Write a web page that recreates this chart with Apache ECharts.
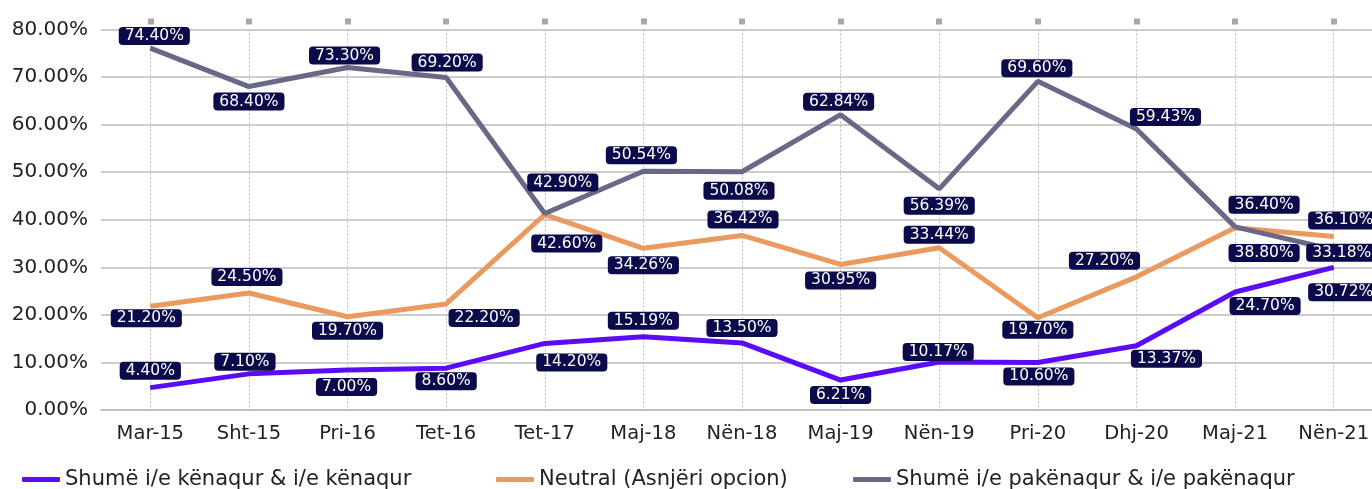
<!DOCTYPE html>
<html>
<head>
<meta charset="utf-8">
<script src="https://cdn.jsdelivr.net/npm/echarts@6/dist/echarts.min.js"></script>
<style>
  html, body { margin: 0; padding: 0; background: #ffffff; overflow: hidden; }
  /* slightly wider than the window: the last column is cut at the right edge */
  #chart { width: 1383px; height: 489px; }
</style>
</head>
<body>
<div id="chart"></div>
<script>
// categories (survey waves)
const categories = ["Mar-15", "Sht-15", "Pri-16", "Tet-16", "Tet-17", "Maj-18", "Nën-18", "Maj-19", "Nën-19", "Pri-20", "Dhj-20", "Maj-21", "Nën-21"];

// plotted values (%)
const satisfied = [4.7, 7.6, 8.4, 8.8, 14.0, 15.4, 14.1, 6.3, 10.1, 10.0, 13.5, 24.8, 30.0];
const neutral = [21.8, 24.6, 19.6, 22.3, 41.1, 34.0, 36.7, 30.6, 34.1, 19.4, 28.0, 38.3, 36.5];
const dissatisfied = [76.1, 68.0, 72.0, 69.9, 41.3, 50.2, 50.1, 62.1, 46.5, 69.1, 59.1, 38.5, 33.7];

// label texts as printed on the chart
const satisfiedLabels = ["4.40%", "7.10%", "7.00%", "8.60%", "14.20%", "15.19%", "13.50%", "6.21%", "10.17%", "10.60%", "13.37%", "24.70%", "30.72%"];
const neutralLabels = ["21.20%", "24.50%", "19.70%", "22.20%", "42.60%", "34.26%", "36.42%", "30.95%", "33.44%", "19.70%", "27.20%", "36.40%", "36.10%"];
const dissatisfiedLabels = ["74.40%", "68.40%", "73.30%", "69.20%", "42.90%", "50.54%", "50.08%", "62.84%", "56.39%", "69.60%", "59.43%", "38.80%", "33.18%"];

const seriesNames = ["Shumë i/e kënaqur & i/e kënaqur", "Neutral (Asnjëri opcion)", "Shumë i/e pakënaqur & i/e pakënaqur"];
const yTicks = [0, 10, 20, 30, 40, 50, 60, 70, 80];

// label placement (pixel offset from the point)
const satisfiedOffsets = [[0, -17], [-4, -12], [-1, 17], [0, 13], [27, 19], [0, -16], [0, -15], [0, 15], [-1, -10], [1, 14], [30, 13], [30, 14], [10, 25]];
const neutralOffsets = [[-4, 12], [-2, -16], [0, 14], [38, 14], [22, 29], [0, 17], [1, -16], [0, 16], [0, -13], [0, 12], [-32, -16], [29, -23], [10, -16]];
const dissatisfiedOffsets = [[4, -12], [0, 15], [-3, -12], [1, -15], [18, -31], [-2, -16], [-3, 19], [-2, -13], [0, 17], [-1, -13], [29, -12], [29, 26], [8, 3]];

const colors = ["#5a0cf7", "#ea9a5e", "#6a6787"];
const fontFamily = "DejaVu Sans";

const chart = echarts.init(document.getElementById("chart"));

function makeSeries(name, values, labels, offsets, color) {
  return {
    name: name,
    type: "line",
    data: values.map(function (v, i) {
      return { value: v, label: { offset: offsets[i] } };
    }),
    symbol: "circle",
    symbolSize: 1,
    itemStyle: { color: color },
    lineStyle: { width: 5, color: color },
    animation: false,
    label: {
      show: true,
      position: "inside",
      formatter: function (p) {
        return labels[p.dataIndex];
      },
      color: "#ffffff",
      fontFamily: fontFamily,
      fontSize: 15.5,
      lineHeight: 15,
      backgroundColor: "#0b0a4a",
      borderRadius: 4,
      padding: [2, 6, 1, 6],
    },
  };
}

function makeLegend(name, left) {
  return {
    data: [name],
    left: left,
    top: 469,
    padding: 0,
    icon: "roundRect",
    itemWidth: 38,
    itemHeight: 5,
    textStyle: { fontFamily: fontFamily, fontSize: 21, color: "#222222" },
  };
}

const option = {
  backgroundColor: "#ffffff",
  textStyle: { fontFamily: fontFamily },
  grid: { left: 101, right: 0, top: 29.5, bottom: 79, containLabel: false },
  legend: [
    makeLegend(seriesNames[0], 22),
    makeLegend(seriesNames[1], 496),
    makeLegend(seriesNames[2], 853),
  ],
  xAxis: [
    {
      type: "category",
      data: categories,
      boundaryGap: true,
      axisLine: { show: true, lineStyle: { color: "#bdbdbd", width: 1.5 } },
      axisTick: { show: false },
      axisLabel: { margin: 14, fontSize: 19.5, color: "#222222", fontFamily: fontFamily },
      splitLine: {
        show: true,
        alignWithLabel: true,
        lineStyle: { type: [2, 2], color: "#bdbdbd", width: 1 },
      },
    },
    {
      // top axis: small grey square markers
      type: "category",
      data: categories,
      position: "top",
      offset: 5,
      boundaryGap: true,
      axisLine: { show: false },
      axisLabel: { show: false },
      axisTick: {
        show: true,
        alignWithLabel: true,
        length: 6,
        lineStyle: { color: "#a8a8a8", width: 6 },
      },
      splitLine: { show: false },
    },
  ],
  yAxis: {
    type: "value",
    min: yTicks[0],
    max: yTicks[yTicks.length - 1],
    interval: yTicks[1] - yTicks[0],
    axisLine: { show: false },
    axisTick: { show: false },
    axisLabel: {
      margin: 13,
      fontSize: 20,
      color: "#222222",
      fontFamily: fontFamily,
      formatter: function (v) {
        return v.toFixed(2) + "%";
      },
    },
    splitLine: { lineStyle: { color: "#bdbdbd", width: 1.5 } },
  },
  series: [
    makeSeries(seriesNames[0], satisfied, satisfiedLabels, satisfiedOffsets, colors[0]),
    makeSeries(seriesNames[1], neutral, neutralLabels, neutralOffsets, colors[1]),
    makeSeries(seriesNames[2], dissatisfied, dissatisfiedLabels, dissatisfiedOffsets, colors[2]),
  ],
};

chart.setOption(option);
</script>
</body>
</html>
